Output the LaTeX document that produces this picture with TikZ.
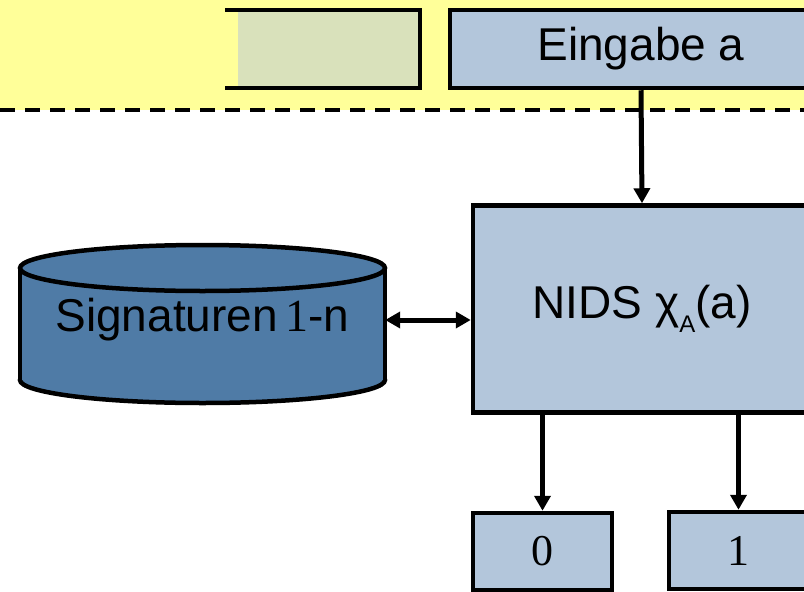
\documentclass[tikz,border=0pt]{standalone}
\usepackage{fontspec}
\setmainfont{Liberation Sans}
\newfontfamily\seriffont{Liberation Serif}
\usetikzlibrary{arrows.meta}
\definecolor{bandyellow}{HTML}{FFFF99}
\definecolor{paleolive}{HTML}{D9E1BB}
\definecolor{boxblue}{HTML}{B3C6DB}
\definecolor{cylblue}{HTML}{4F7BA6}
\tikzset{
  bluebox/.style={draw=black, line width=4.5pt, fill=boxblue, inner sep=0pt, font=\fontsize{46}{50}\selectfont},
  conn/.style={line width=5pt, -{Triangle[length=15pt,width=16pt]}},
  dconn/.style={line width=5pt, {Triangle[length=15pt,width=16pt]}-{Triangle[length=15pt,width=16pt]}},
}
\begin{document}
\begin{tikzpicture}[x=1pt,y=-1pt]
\useasboundingbox (0,0) rectangle (804,592);
\clip (0,0) rectangle (804,592);
\fill[white] (0,0) rectangle (804,592);
% yellow band
\fill[bandyellow] (0,0) rectangle (804,110);
\draw[line width=4.5pt, dash pattern=on 15pt off 10pt] (0,110) -- (804,110);
% partial left box
\fill[paleolive] (238,10) rectangle (420,88);
\draw[line width=4.5pt] (225,10) -- (420,10) -- (420,88) -- (225,88);
% Eingabe
\node[bluebox, minimum width=382pt, minimum height=78pt] (ein) at (641,49) {Eingabe a};
% NIDS
\node[bluebox, minimum width=338pt, minimum height=207pt] (nids) at (642,309)
  {NIDS χ\raisebox{-0.3em}{\fontsize{24}{24}\selectfont A}(a)};
% cylinder
\fill[cylblue, draw=black, line width=4.5pt] (202.5,380) ellipse [x radius=182.5, y radius=23];
\fill[cylblue] (20,268) rectangle (385,380);
\draw[line width=4.5pt] (20,268) -- (20,380) (385,268) -- (385,380);
\fill[cylblue, draw=black, line width=4.5pt] (202.5,268) ellipse [x radius=182.5, y radius=23];
\node[minimum width=365pt, inner sep=0pt, font=\fontsize{46}{50}\selectfont] (sig) at (202.5,320) {Signaturen\,{\seriffont 1}-n};
% outputs
\node[bluebox, minimum width=139pt, minimum height=77pt, font=\fontsize{44}{50}\seriffont] (out0) at (542.5,551.5) {0};
\node[bluebox, minimum width=139pt, minimum height=77pt, font=\fontsize{44}{50}\seriffont] (out1) at (738.5,550.5) {1};
% connectors
\draw[conn] (ein.south) -- (nids.north);
\draw[dconn] (sig.east) -- (nids.west |- sig.east);
\draw[conn] (out0.north |- nids.south) -- (out0.north);
\draw[conn] (out1.north |- nids.south) -- (out1.north);
\end{tikzpicture}
\end{document}
